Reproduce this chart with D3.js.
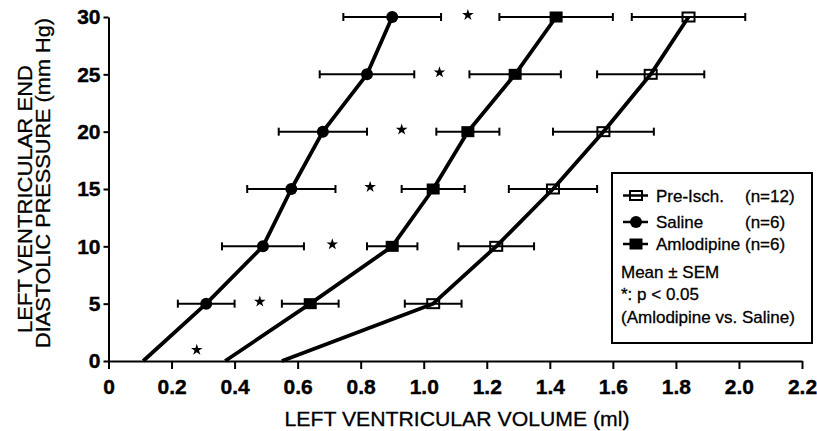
<!DOCTYPE html>
<html>
<head>
<meta charset="utf-8">
<script src="https://cdn.jsdelivr.net/npm/d3@7"></script>
<style>
  body { margin: 0; background: #fff; }
  svg { display: block; font-family: "Liberation Sans", Arial, Helvetica, sans-serif; }
</style>
</head>
<body>
<script>
// LV end diastolic pressure (mm Hg) vs LV volume (ml)
var pressure = [0, 5, 10, 15, 20, 25, 30]
var preIschVol = [0.55, 1.03, 1.23, 1.41, 1.57, 1.72, 1.84]
var preIschSem = [0, 0.09, 0.12, 0.14, 0.16, 0.17, 0.18]
var salineVol = [0.11, 0.31, 0.49, 0.58, 0.68, 0.82, 0.90]
var salineSem = [0, 0.09, 0.13, 0.14, 0.14, 0.15, 0.155]
var amloVol = [0.37, 0.64, 0.90, 1.03, 1.14, 1.29, 1.42]
var amloSem = [0, 0.09, 0.08, 0.10, 0.10, 0.145, 0.18]

// significance stars (Amlodipine vs Saline)
var starVol = [0.28, 0.48, 0.71, 0.83, 0.93, 1.05, 1.14]
var starPres = [0.8, 5, 10, 15, 20, 25, 30]

var xTicks = [0, 0.2, 0.4, 0.6, 0.8, 1.0, 1.2, 1.4, 1.6, 1.8, 2.0, 2.2]
var yTicks = [0, 5, 10, 15, 20, 25, 30]

var legendNames = ['Pre-Isch.', 'Saline', 'Amlodipine']
var legendN = ['(n=12)', '(n=6)', '(n=6)']
var legendNotes = ['Mean \u00b1 SEM', '*: p < 0.05', '(Amlodipine vs. Saline)']

var W = 817
  , H = 431

var svg = d3.select('body')
  .append('svg')
  .attr('width', W)
  .attr('height', H)

var x = d3.scaleLinear().domain([0, 2.2]).range([108.5, 802])
  , y = d3.scaleLinear().domain([0, 30]).range([361, 17])

function pts(vol, sem) {
  return pressure.map(function(p, i) { return { p: p, v: vol[i], s: sem[i] } })
}

var series = [
  { name: legendNames[0], kind: 'open', data: pts(preIschVol, preIschSem) },
  { name: legendNames[1], kind: 'circle', data: pts(salineVol, salineSem) },
  { name: legendNames[2], kind: 'square', data: pts(amloVol, amloSem) }
]

// axes
var xAxis = d3.axisBottom(x)
  .tickValues(xTicks)
  .tickFormat(function(d) { return d === 0 ? '0' : d.toFixed(1) })
  .tickSize(8)
  .tickSizeOuter(0)
  .tickPadding(10)

var yAxis = d3.axisLeft(y)
  .tickValues(yTicks)
  .tickFormat(d3.format('d'))
  .tickSize(5)
  .tickSizeOuter(0)
  .tickPadding(3)

var gx = svg.append('g').attr('transform', 'translate(0,' + y(0) + ')').call(xAxis)
var gy = svg.append('g').attr('transform', 'translate(' + x(0) + ',0)').call(yAxis)

;[gx, gy].forEach(function(g) {
  g.select('.domain').attr('stroke', '#000').attr('stroke-width', 2)
  g.selectAll('.tick line').attr('stroke', '#000').attr('stroke-width', 2)
  g.selectAll('.tick text')
    .attr('fill', '#000')
    .attr('stroke', '#000')
    .attr('stroke-width', 0.4)
    .style('font-size', '21px')
    .style('font-weight', 'bold')
    .style('font-family', '"Liberation Sans", Arial, sans-serif')
})

// axis titles
svg.append('text')
  .attr('x', 457)
  .attr('y', 426)
  .attr('text-anchor', 'middle')
  .attr('textLength', 345)
  .attr('lengthAdjust', 'spacingAndGlyphs')
  .attr('stroke', '#000')
  .attr('stroke-width', 0.3)
  .style('font-size', '21px')
  .text('LEFT VENTRICULAR VOLUME (ml)')

var yt = svg.append('g')
  .attr('transform', 'rotate(-90)')
  .attr('stroke', '#000')
  .attr('stroke-width', 0.3)
yt.append('text')
  .attr('x', -199)
  .attr('y', 31.5)
  .attr('text-anchor', 'middle')
  .attr('textLength', 268)
  .attr('lengthAdjust', 'spacingAndGlyphs')
  .style('font-size', '21px')
  .text('LEFT VENTRICULAR END')
yt.append('text')
  .attr('x', -183)
  .attr('y', 50)
  .attr('text-anchor', 'middle')
  .attr('textLength', 330)
  .attr('lengthAdjust', 'spacingAndGlyphs')
  .style('font-size', '21px')
  .text('DIASTOLIC PRESSURE (mm Hg)')

// curves
var line = d3.line()
  .x(function(d) { return x(d.v) })
  .y(function(d) { return y(d.p) })

svg.selectAll('path.curve').data(series).enter()
  .append('path')
  .attr('class', 'curve')
  .attr('d', function(d) { return line(d.data) })
  .attr('fill', 'none')
  .attr('stroke', '#000')
  .attr('stroke-width', 3.8)
  .attr('stroke-linejoin', 'round')

// error bars (no bar at 0 mm Hg)
var cap = 4
series.forEach(function(s) {
  var eb = svg.append('g').attr('stroke', '#000').attr('stroke-width', 2)
  var d = s.data.filter(function(p) { return p.p > 0 })
  eb.selectAll('line.h').data(d).enter().append('line')
    .attr('x1', function(p) { return x(p.v - p.s) })
    .attr('x2', function(p) { return x(p.v + p.s) })
    .attr('y1', function(p) { return y(p.p) })
    .attr('y2', function(p) { return y(p.p) })
  eb.selectAll('line.l').data(d).enter().append('line')
    .attr('x1', function(p) { return x(p.v - p.s) })
    .attr('x2', function(p) { return x(p.v - p.s) })
    .attr('y1', function(p) { return y(p.p) - cap })
    .attr('y2', function(p) { return y(p.p) + cap })
  eb.selectAll('line.r').data(d).enter().append('line')
    .attr('x1', function(p) { return x(p.v + p.s) })
    .attr('x2', function(p) { return x(p.v + p.s) })
    .attr('y1', function(p) { return y(p.p) - cap })
    .attr('y2', function(p) { return y(p.p) + cap })
})

function marker(g, kind, cx, cy) {
  if (kind === 'circle') {
    g.append('circle').attr('cx', cx).attr('cy', cy).attr('r', 6).attr('fill', '#000')
  } else if (kind === 'square') {
    g.append('rect').attr('x', cx - 6.5).attr('y', cy - 5.5).attr('width', 13).attr('height', 11).attr('fill', '#000')
  } else {
    g.append('rect').attr('x', cx - 6).attr('y', cy - 4.5).attr('width', 12).attr('height', 9)
      .attr('fill', 'none').attr('stroke', '#000').attr('stroke-width', 2)
  }
}

series.forEach(function(s) {
  var mg = svg.append('g')
  s.data.filter(function(p) { return p.p > 0 }).forEach(function(p) {
    marker(mg, s.kind, x(p.v), y(p.p))
  })
})

// stars
var star = d3.symbol().type(d3.symbolStar).size(42)
svg.selectAll('path.star').data(starVol).enter()
  .append('path')
  .attr('class', 'star')
  .attr('d', star)
  .attr('transform', function(d, i) { return 'translate(' + x(d) + ',' + (y(starPres[i]) - 2) + ')' })
  .attr('fill', '#000')

// legend
var lg = svg.append('g')
lg.append('rect')
  .attr('x', 612).attr('y', 173)
  .attr('width', 200).attr('height', 170)
  .attr('fill', '#fff')
  .attr('stroke', '#000')
  .attr('stroke-width', 2)

var lt = lg.append('g')
  .attr('stroke', '#000')
  .attr('stroke-width', 0.3)
  .style('font-size', '17px')

var rowBase = [201.5, 228, 250]
series.forEach(function(s, i) {
  var cy = rowBase[i] - 6
  lg.append('line')
    .attr('x1', 623).attr('x2', 648)
    .attr('y1', cy).attr('y2', cy)
    .attr('stroke', '#000').attr('stroke-width', 2.5)
  marker(lg, s.kind, 636, cy)
  lt.append('text')
    .attr('x', 656).attr('y', rowBase[i])
    .text(s.name)
  lt.append('text')
    .attr('x', 745).attr('y', rowBase[i])
    .text(legendN[i])
})

var noteBase = [278, 300, 323]
legendNotes.forEach(function(t, i) {
  lt.append('text')
    .attr('x', 621).attr('y', noteBase[i])
    .text(t)
})
</script>
</body>
</html>
